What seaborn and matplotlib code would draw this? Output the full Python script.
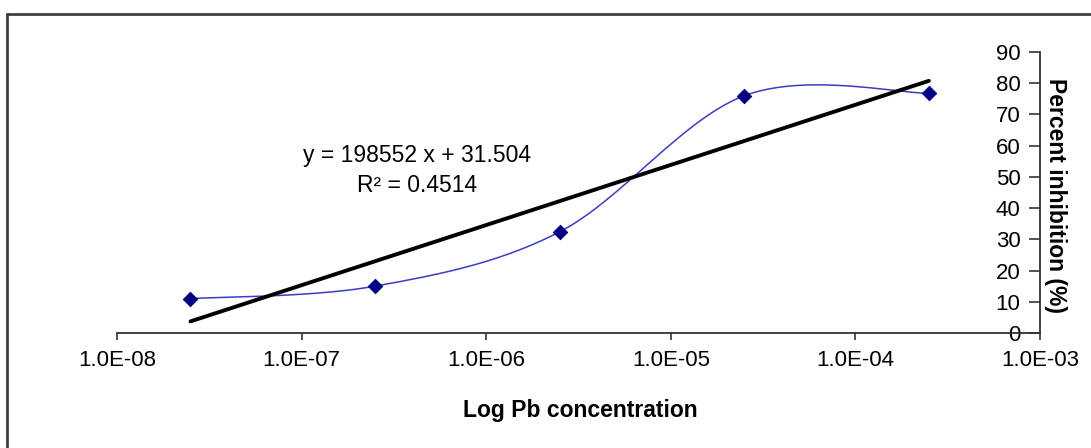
import numpy as np
import pandas as pd
import matplotlib
matplotlib.use("Agg")
import matplotlib.pyplot as plt
from matplotlib.lines import Line2D
import seaborn as sns

# ---- data ----
concentration = [2.5e-8, 2.5e-7, 2.5e-6, 2.5e-5, 2.5e-4]
inhibition = [11.0, 15.0, 32.4, 76.0, 76.8]
x_ticks = [1e-8, 1e-7, 1e-6, 1e-5, 1e-4, 1e-3]
x_tick_labels = ["1.0E-08", "1.0E-07", "1.0E-06", "1.0E-05", "1.0E-04", "1.0E-03"]
y_ticks = [0, 10, 20, 30, 40, 50, 60, 70, 80, 90]
equation_text = "y = 198552 x + 31.504"
r2_text = "R² = 0.4514"

sns.set_style("white")
plt.rcParams["font.family"] = ["Liberation Sans", "DejaVu Sans"]
plt.rcParams["text.color"] = "black"

fig = plt.figure(figsize=(10.91, 4.48), dpi=100)
ax = fig.add_axes([117 / 1091, 1 - 333 / 448, (1040 - 117) / 1091, (333 - 52) / 448])

# Excel-style smoothed line (Catmull-Rom / Bezier through points in log-x space)
lx = np.log10(concentration)
yy = np.array(inhibition)
P = np.column_stack([lx, yy])
Pe = np.vstack([P[0], P, P[-1]])
sx, sy = [], []
t = np.linspace(0, 1, 60)
for i in range(len(P) - 1):
    p0, p1, p2, p3 = Pe[i], Pe[i + 1], Pe[i + 2], Pe[i + 3]
    c1 = p1 + (p2 - p0) / 6
    c2 = p2 - (p3 - p1) / 6
    b = ((1 - t) ** 3)[:, None] * p1 + (3 * (1 - t) ** 2 * t)[:, None] * c1 + \
        (3 * (1 - t) * t ** 2)[:, None] * c2 + (t ** 3)[:, None] * p2
    sx.extend(10 ** b[:, 0])
    sy.extend(b[:, 1])
smooth = pd.DataFrame({"x": sx, "y": sy})
sns.lineplot(data=smooth, x="x", y="y", ax=ax, sort=False, color="#3c3cc0", lw=1.1)

# linear trend (fitted on log scale as drawn)
slope, icpt = np.polyfit(lx, yy, 1)
trend = pd.DataFrame({"x": [concentration[0], concentration[-1]],
                      "y": [slope * lx[0] + icpt, slope * lx[-1] + icpt]})
sns.lineplot(data=trend, x="x", y="y", ax=ax, color="black", lw=2.8)

pts = pd.DataFrame({"x": concentration, "y": inhibition})
sns.scatterplot(data=pts, x="x", y="y", ax=ax, marker="D", s=55, color="#000080",
                edgecolor="#000080", zorder=5)

ax.set_xscale("log")
ax.set_xlim(1e-8, 1e-3)
ax.set_ylim(0, 90)
ax.set_xticks(x_ticks)
ax.set_xticklabels(x_tick_labels)
ax.xaxis.set_minor_locator(matplotlib.ticker.NullLocator())
ax.set_yticks(y_ticks)
ax.set_xlabel("")
ax.set_ylabel("")

for s in ["top", "right"]:
    ax.spines[s].set_visible(False)
ax.spines["left"].set_position(("axes", 1.0))
for s in ["left", "bottom"]:
    ax.spines[s].set_color("#333333")
    ax.spines[s].set_linewidth(1.3)
ax.tick_params(axis="x", direction="out", length=5, width=1.2, color="#333333",
               labelsize=16, pad=7, bottom=True, labelcolor="black")
ax.tick_params(axis="y", direction="out", length=8, width=1.2, color="#333333",
               labelsize=16, pad=6, left=True, labelcolor="black")

ax.text(0.325, 0.632, equation_text, transform=ax.transAxes, ha="center", va="center",
        fontsize=16.5, color="black")
ax.text(0.325, 0.525, r2_text, transform=ax.transAxes, ha="center", va="center",
        fontsize=16.5, color="black")

fig.text(580 / 1091, 1 - 410 / 448, "Log Pb concentration", ha="center", va="center",
         fontsize=16.5, fontweight="bold", color="black")
fig.text(1055 / 1091, 1 - 195 / 448, "Percent inhibition (%)", ha="center", va="center",
         rotation=270, fontsize=16.5, fontweight="bold", color="black")

# outer chart frame (top and left edges visible)
fig.add_artist(Line2D([7 / 1091, 1.0], [1 - 14 / 448, 1 - 14 / 448],
                      transform=fig.transFigure, color="#404040", lw=2))
fig.add_artist(Line2D([7 / 1091, 7 / 1091], [0, 1 - 14 / 448],
                      transform=fig.transFigure, color="#404040", lw=2))

fig.savefig("out.png", dpi=100, facecolor="white")
